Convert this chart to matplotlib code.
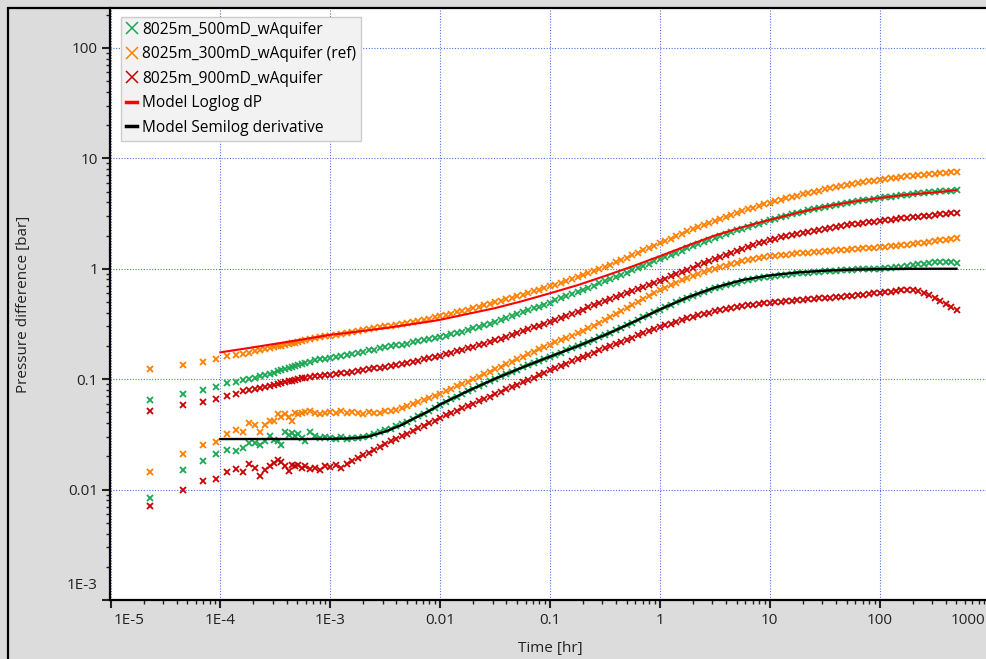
import numpy as np
import matplotlib.pyplot as plt
from matplotlib.lines import Line2D
from matplotlib.patches import Rectangle
from matplotlib.ticker import FixedLocator, FixedFormatter, LogLocator, NullFormatter

plt.rcParams['font.family'] = ['Open Sans', 'DejaVu Sans']
plt.rcParams['font.size'] = 11

# sample times [hr]
t_data = [2.3e-5, 4.6e-5, 6.9e-5, 9.2e-5, 1.15e-4, 1.38e-4, 1.61e-4, 1.84e-4, 2.07e-4, 2.3e-4,
          2.53e-4, 2.81e-4, 3.07e-4, 3.34e-4, 3.59e-4, 3.89e-4, 4.17e-4, 4.46e-4, 4.74e-4, 5.08e-4,
          5.49e-4, 5.95e-4, 6.55e-4, 7.27e-4, 8.07e-4, 8.96e-4,
          1.00e-3, 1.12e-3, 1.26e-3, 1.41e-3, 1.58e-3, 1.78e-3, 2.00e-3, 2.24e-3, 2.51e-3, 2.82e-3,
          3.16e-3, 3.55e-3, 3.98e-3, 4.47e-3, 5.01e-3, 5.62e-3, 6.31e-3, 7.08e-3, 7.94e-3, 8.91e-3,
          1.00e-2, 1.12e-2, 1.26e-2, 1.41e-2, 1.58e-2, 1.78e-2, 2.00e-2, 2.24e-2, 2.51e-2, 2.82e-2,
          3.16e-2, 3.55e-2, 3.98e-2, 4.47e-2, 5.01e-2, 5.62e-2, 6.31e-2, 7.08e-2, 7.94e-2, 8.91e-2,
          0.100, 0.112, 0.126, 0.141, 0.158, 0.178, 0.200, 0.224, 0.251, 0.282,
          0.316, 0.355, 0.398, 0.447, 0.501, 0.562, 0.631, 0.708, 0.794, 0.891,
          1.00, 1.12, 1.26, 1.41, 1.58, 1.78, 2.00, 2.24, 2.51, 2.82,
          3.16, 3.55, 3.98, 4.47, 5.01, 5.62, 6.31, 7.08, 7.94, 8.91,
          10.0, 11.2, 12.6, 14.1, 15.8, 17.8, 20.0, 22.4, 25.1, 28.2,
          31.6, 35.5, 39.8, 44.7, 50.1, 56.2, 63.1, 70.8, 79.4, 89.1,
          100, 112, 126, 141, 158, 178, 200, 224, 251, 282,
          316, 355, 398, 447, 501]

# pressure change [bar]
dp_500 = [0.0651, 0.0733, 0.0802, 0.0853, 0.0922, 0.0942, 0.0973, 0.1002, 0.1030, 0.1062,
          0.1092, 0.1120, 0.1148, 0.1174, 0.1199, 0.1230, 0.1256, 0.1282, 0.1303, 0.1331,
          0.1365, 0.1400, 0.1438, 0.1483, 0.1514, 0.1537,
          0.155, 0.158, 0.162, 0.166, 0.170, 0.174, 0.177, 0.182, 0.185, 0.190,
          0.194, 0.198, 0.202, 0.206, 0.210, 0.215, 0.220, 0.225, 0.230, 0.236,
          0.241, 0.248, 0.255, 0.262, 0.270, 0.278, 0.288, 0.298, 0.308, 0.319,
          0.330, 0.344, 0.357, 0.372, 0.386, 0.402, 0.419, 0.437, 0.455, 0.474,
          0.494, 0.516, 0.540, 0.562, 0.588, 0.614, 0.643, 0.671, 0.703, 0.736,
          0.769, 0.805, 0.843, 0.883, 0.925, 0.968, 1.014, 1.062, 1.112, 1.164,
          1.219, 1.276, 1.334, 1.396, 1.459, 1.528, 1.596, 1.663, 1.738, 1.816,
          1.897, 1.972, 2.051, 2.138, 2.223, 2.312, 2.393, 2.483, 2.570, 2.667,
          2.761, 2.844, 2.931, 3.027, 3.119, 3.214, 3.296, 3.381, 3.467, 3.556,
          3.648, 3.724, 3.802, 3.873, 3.954, 4.036, 4.102, 4.169, 4.236, 4.305,
          4.375, 4.436, 4.498, 4.560, 4.624, 4.688, 4.742, 4.808, 4.864, 4.920,
          4.989, 5.023, 5.070, 5.105, 5.152]
dp_300 = [0.1235, 0.1358, 0.1438, 0.152, 0.1612, 0.1664, 0.1699, 0.1741, 0.1782, 0.1827,
          0.1866, 0.1913, 0.1954, 0.1987, 0.2008, 0.205, 0.2085, 0.2115, 0.2146, 0.2183,
          0.2229, 0.2275, 0.2323, 0.2372, 0.2405, 0.2448,
          0.247, 0.252, 0.258, 0.262, 0.268, 0.274, 0.279, 0.284, 0.289, 0.294,
          0.300, 0.305, 0.312, 0.318, 0.324, 0.330, 0.338, 0.346, 0.354, 0.362,
          0.371, 0.381, 0.392, 0.403, 0.414, 0.426, 0.439, 0.453, 0.467, 0.482,
          0.497, 0.513, 0.530, 0.547, 0.565, 0.583, 0.604, 0.625, 0.646, 0.668,
          0.692, 0.719, 0.746, 0.776, 0.805, 0.838, 0.875, 0.914, 0.953, 0.995,
          1.040, 1.091, 1.146, 1.202, 1.262, 1.324, 1.393, 1.466, 1.542, 1.622,
          1.706, 1.791, 1.879, 1.977, 2.075, 2.178, 2.280, 2.382, 2.495, 2.606,
          2.729, 2.844, 2.958, 3.083, 3.206, 3.342, 3.459, 3.581, 3.707, 3.837,
          3.972, 4.093, 4.207, 4.335, 4.457, 4.592, 4.710, 4.831, 4.966, 5.093,
          5.224, 5.346, 5.458, 5.585, 5.702, 5.834, 5.943, 6.053, 6.180, 6.295,
          6.412, 6.501, 6.607, 6.699, 6.792, 6.887, 6.950, 7.031, 7.096, 7.178,
          7.244, 7.311, 7.379, 7.447, 7.516]
dp_900 = [0.0520, 0.0583, 0.0624, 0.0660, 0.0697, 0.0738, 0.0774, 0.0790, 0.0815, 0.0836,
          0.0853, 0.0871, 0.0890, 0.0908, 0.0924, 0.0937, 0.0953, 0.0968, 0.0982, 0.0998,
          0.1015, 0.1030, 0.1047, 0.1062, 0.1078, 0.1089,
          0.1096, 0.1114, 0.1132, 0.1148, 0.1167, 0.1186, 0.1208, 0.1227, 0.1250, 0.1271,
          0.1294, 0.1321, 0.1349, 0.1380, 0.1409, 0.1439, 0.1476, 0.1514, 0.1549, 0.1589,
          0.163, 0.168, 0.173, 0.179, 0.184, 0.190, 0.196, 0.203, 0.210, 0.217,
          0.225, 0.233, 0.242, 0.252, 0.261, 0.271, 0.282, 0.294, 0.306, 0.318,
          0.331, 0.345, 0.360, 0.376, 0.392, 0.408, 0.427, 0.446, 0.465, 0.485,
          0.507, 0.530, 0.553, 0.577, 0.603, 0.630, 0.656, 0.686, 0.715, 0.746,
          0.778, 0.815, 0.853, 0.893, 0.935, 0.980, 1.023, 1.072, 1.119, 1.172,
          1.225, 1.279, 1.334, 1.393, 1.452, 1.517, 1.574, 1.633, 1.698, 1.762,
          1.828, 1.875, 1.923, 1.972, 2.023, 2.075, 2.118, 2.163, 2.213, 2.259,
          2.307, 2.350, 2.388, 2.432, 2.472, 2.518, 2.559, 2.600, 2.636, 2.679,
          2.723, 2.761, 2.793, 2.831, 2.864, 2.904, 2.938, 2.972, 2.999, 3.034,
          3.069, 3.105, 3.141, 3.177, 3.214]

# semilog derivative [bar]
der_500 = [0.00838, 0.01502, 0.01824, 0.0210, 0.0229, 0.0225, 0.0238, 0.0264, 0.0264, 0.0255,
           0.0273, 0.0303, 0.0283, 0.0273, 0.0255, 0.0329, 0.0313, 0.0325, 0.0303, 0.0320,
           0.0293, 0.0277, 0.0329, 0.0303, 0.0293, 0.0301,
           0.0295, 0.0285, 0.0300, 0.0288, 0.0296, 0.0292, 0.0301, 0.0308, 0.0318, 0.0330,
           0.0343, 0.0357, 0.0373, 0.0392, 0.0412, 0.0435, 0.0460, 0.0488, 0.0518, 0.0550,
           0.0585, 0.0620, 0.0657, 0.0695, 0.0735, 0.0777, 0.0820, 0.0865, 0.0912, 0.0960,
           0.101, 0.106, 0.111, 0.117, 0.122, 0.128, 0.134, 0.140, 0.147, 0.153,
           0.160, 0.167, 0.174, 0.182, 0.190, 0.199, 0.208, 0.218, 0.228, 0.239,
           0.251, 0.264, 0.278, 0.293, 0.309, 0.326, 0.344, 0.363, 0.383, 0.404,
           0.426, 0.449, 0.472, 0.496, 0.520, 0.545, 0.570, 0.594, 0.618, 0.641,
           0.664, 0.687, 0.709, 0.730, 0.750, 0.770, 0.789, 0.806, 0.822, 0.837,
           0.851, 0.864, 0.876, 0.887, 0.897, 0.907, 0.916, 0.925, 0.933, 0.941,
           0.948, 0.955, 0.962, 0.968, 0.974, 0.980, 0.985, 0.990, 0.995, 0.999,
           1.000, 1.008, 1.018, 1.030, 1.044, 1.060, 1.077, 1.095, 1.112, 1.125,
           1.145, 1.160, 1.162, 1.150, 1.130]
der_300 = [0.01429, 0.0208, 0.0253, 0.0271, 0.0318, 0.0348, 0.0329, 0.0405, 0.0381, 0.0332,
           0.0386, 0.0420, 0.0420, 0.0486, 0.0459, 0.0486, 0.0459, 0.0420, 0.0499, 0.0486,
           0.0493, 0.0507, 0.0520, 0.0499, 0.0486, 0.0499,
           0.0500, 0.0495, 0.0510, 0.0490, 0.0505, 0.0490, 0.0485, 0.0500, 0.0490, 0.0495,
           0.0510, 0.0520, 0.0530, 0.0550, 0.0570, 0.0600, 0.0620, 0.0650, 0.0680, 0.0710,
           0.074, 0.078, 0.082, 0.086, 0.090, 0.095, 0.100, 0.105, 0.111, 0.117,
           0.124, 0.130, 0.137, 0.144, 0.152, 0.160, 0.168, 0.177, 0.186, 0.195,
           0.205, 0.215, 0.225, 0.236, 0.248, 0.260, 0.274, 0.289, 0.305, 0.322,
           0.340, 0.362, 0.387, 0.413, 0.441, 0.470, 0.502, 0.535, 0.569, 0.604,
           0.640, 0.676, 0.712, 0.748, 0.784, 0.820, 0.857, 0.893, 0.929, 0.965,
           1.000, 1.035, 1.069, 1.103, 1.137, 1.170, 1.198, 1.225, 1.250, 1.275,
           1.298, 1.315, 1.330, 1.345, 1.360, 1.375, 1.389, 1.403, 1.417, 1.432,
           1.446, 1.458, 1.470, 1.482, 1.494, 1.506, 1.518, 1.530, 1.543, 1.556,
           1.570, 1.585, 1.600, 1.616, 1.634, 1.655, 1.676, 1.698, 1.722, 1.748,
           1.776, 1.805, 1.836, 1.867, 1.900]
der_900 = [0.00713, 0.00995, 0.01184, 0.01253, 0.01429, 0.01534, 0.01429, 0.01713, 0.01566, 0.01334,
           0.01511, 0.01643, 0.01738, 0.01836, 0.01760, 0.01643, 0.01459, 0.01678, 0.01619, 0.01678,
           0.01566, 0.01643, 0.01534, 0.01585, 0.01511, 0.01619,
           0.0160, 0.0166, 0.0157, 0.0170, 0.0183, 0.0195, 0.0205, 0.0216, 0.0229, 0.0243,
           0.0258, 0.0273, 0.0289, 0.0305, 0.0322, 0.0340, 0.0358, 0.0378, 0.0400, 0.0422,
           0.0446, 0.0469, 0.0492, 0.0517, 0.0543, 0.0571, 0.0600, 0.0630, 0.0662, 0.0696,
           0.0731, 0.0768, 0.0807, 0.0848, 0.0891, 0.0936, 0.0983, 0.1033, 0.1085, 0.1140,
           0.120, 0.126, 0.132, 0.138, 0.145, 0.152, 0.159, 0.166, 0.174, 0.182,
           0.190, 0.199, 0.208, 0.218, 0.228, 0.238, 0.249, 0.260, 0.271, 0.283,
           0.295, 0.307, 0.319, 0.331, 0.343, 0.355, 0.367, 0.379, 0.390, 0.401,
           0.411, 0.421, 0.431, 0.440, 0.449, 0.457, 0.465, 0.472, 0.479, 0.485,
           0.491, 0.497, 0.503, 0.508, 0.513, 0.518, 0.523, 0.528, 0.533, 0.538,
           0.543, 0.548, 0.553, 0.558, 0.564, 0.570, 0.576, 0.583, 0.590, 0.597,
           0.604, 0.612, 0.622, 0.632, 0.640, 0.645, 0.640, 0.625, 0.603, 0.577,
           0.548, 0.515, 0.482, 0.450, 0.419]

# model curves
t_model = [1e-4, 1.78e-4, 3.16e-4, 5.62e-4, 1e-3, 1.41e-3, 1.78e-3, 2.24e-3, 3.16e-3, 4.47e-3,
           5.62e-3, 7.94e-3, 1e-2, 1.78e-2, 3.16e-2, 5.62e-2, 0.1, 0.178, 0.316, 0.562,
           1, 1.78, 3.16, 5.62, 10, 17.8, 31.6, 56.2, 100, 178, 316, 500]
model_dp = [0.175, 0.191, 0.209, 0.229, 0.252, 0.262, 0.270, 0.278, 0.290, 0.305,
            0.316, 0.332, 0.345, 0.39, 0.44, 0.51, 0.60, 0.71, 0.86, 1.05,
            1.30, 1.62, 2.0, 2.38, 2.77, 3.21, 3.65, 4.04, 4.38, 4.69, 4.92, 5.15]
model_der = [0.0287, 0.0287, 0.0287, 0.0287, 0.0288, 0.0290, 0.0294, 0.0303, 0.0335, 0.0385,
             0.0435, 0.0515, 0.059, 0.078, 0.101, 0.128, 0.160, 0.199, 0.251, 0.326,
             0.428, 0.55, 0.675, 0.79, 0.87, 0.925, 0.96, 0.982, 0.993, 0.998, 1.0, 1.0]

c_green = '#1aa854'
c_orange = '#ff8000'
c_dred = '#c80000'

fig = plt.figure(figsize=(9.87, 6.59), dpi=100)
fig.patch.set_facecolor('#dcdcdc')
ax = fig.add_axes([110.5 / 987, 59 / 659, 879 / 987, 592 / 659])
ax.set_xscale('log')
ax.set_yscale('log')

mk = dict(marker='x', ms=4.6, mew=1.3, linestyle='none')
for dp, der, col in [(dp_900, der_900, c_dred), (dp_300, der_300, c_orange), (dp_500, der_500, c_green)]:
    ax.plot(t_data, dp, color=col, **mk)
    ax.plot(t_data, der, color=col, **mk)

ax.plot(t_model, model_dp, color='#ff0000', lw=1.5, zorder=4)
ax.plot(t_model, model_der, color='black', lw=1.7, zorder=4)

ax.set_xlim(1e-5, 1e3)
ax.set_ylim(1e-3, 230)

xt = [1e-5, 1e-4, 1e-3, 1e-2, 1e-1, 1, 10, 100, 1000]
ax.xaxis.set_major_locator(FixedLocator(xt))
ax.xaxis.set_major_formatter(FixedFormatter(['', '1E-4', '1E-3', '0.01', '0.1', '1', '10', '100', '']))
yt = [1e-3, 1e-2, 1e-1, 1, 10, 100]
ax.yaxis.set_major_locator(FixedLocator(yt))
ax.yaxis.set_major_formatter(FixedFormatter(['', '0.01', '0.1', '1', '10', '100']))
for axis in (ax.xaxis, ax.yaxis):
    axis.set_minor_locator(LogLocator(base=10, subs=np.arange(2, 10), numticks=20))
    axis.set_minor_formatter(NullFormatter())

ax.tick_params(which='major', direction='out', length=6, width=1.5, pad=3, labelsize=11, colors='#222222')
ax.tick_params(which='minor', direction='out', length=3, width=1, colors='#222222')

# end labels kept inside the frame
ax.annotate('1E-5', xy=(0, 0), xycoords='axes fraction', xytext=(2.5, -9), textcoords='offset points',
            ha='left', va='top', fontsize=11, color='#222222')
ax.annotate('1000', xy=(1, 0), xycoords=('figure fraction', 'axes fraction'), xytext=(-1, -9),
            textcoords='offset points', ha='right', va='top', fontsize=11, color='#222222')
ax.annotate('1E-3', xy=(0, 0), xycoords='axes fraction', xytext=(-9, 8), textcoords='offset points',
            ha='right', va='baseline', fontsize=11, color='#222222')

for side in ('top', 'right'):
    ax.spines[side].set_visible(False)
for side in ('left', 'bottom'):
    ax.spines[side].set_linewidth(1.6)
    ax.spines[side].set_color('black')

ax.set_axisbelow(True)
ax.grid(True, which='major', color='#4f74e0', linestyle=(0, (1, 1.5)), linewidth=0.8)

ax.set_xlabel('Time [hr]', fontsize=11, color='#222222')
ax.xaxis.set_label_coords(0.5, -0.07)
ax.set_ylabel('Pressure difference [bar]', fontsize=11, color='#222222')
ax.yaxis.set_label_coords(-0.091, 0.5)

handles = [
    Line2D([], [], color=c_green, marker='x', ms=8, mew=1.1, linestyle='none'),
    Line2D([], [], color=c_orange, marker='x', ms=8, mew=1.1, linestyle='none'),
    Line2D([], [], color=c_dred, marker='x', ms=8, mew=1.1, linestyle='none'),
    Line2D([], [], color='#ff0000', lw=2.5),
    Line2D([], [], color='black', lw=2.5),
]
labels = ['8025m_500mD_wAquifer', '8025m_300mD_wAquifer (ref)', '8025m_900mD_wAquifer',
          'Model Loglog dP', 'Model Semilog derivative']
leg = ax.legend(handles, labels, loc='upper left', bbox_to_anchor=(121.5 / 987, 1 - 17 / 659),
                bbox_transform=fig.transFigure, borderaxespad=0, fancybox=False, framealpha=1,
                handlelength=0.7, handletextpad=0.35, borderpad=0.3, labelspacing=0.55, fontsize=11.2)
leg.get_frame().set_facecolor('#f2f2f2')
leg.get_frame().set_edgecolor('#cccccc')
leg.get_frame().set_linewidth(1)

fig.add_artist(Rectangle((8 / 987, -0.5), 2, 1 - 8 / 659 + 0.5, transform=fig.transFigure,
                         fill=False, edgecolor='black', linewidth=1.6, zorder=10))

fig.savefig('out.png', dpi=100, facecolor=fig.get_facecolor())
